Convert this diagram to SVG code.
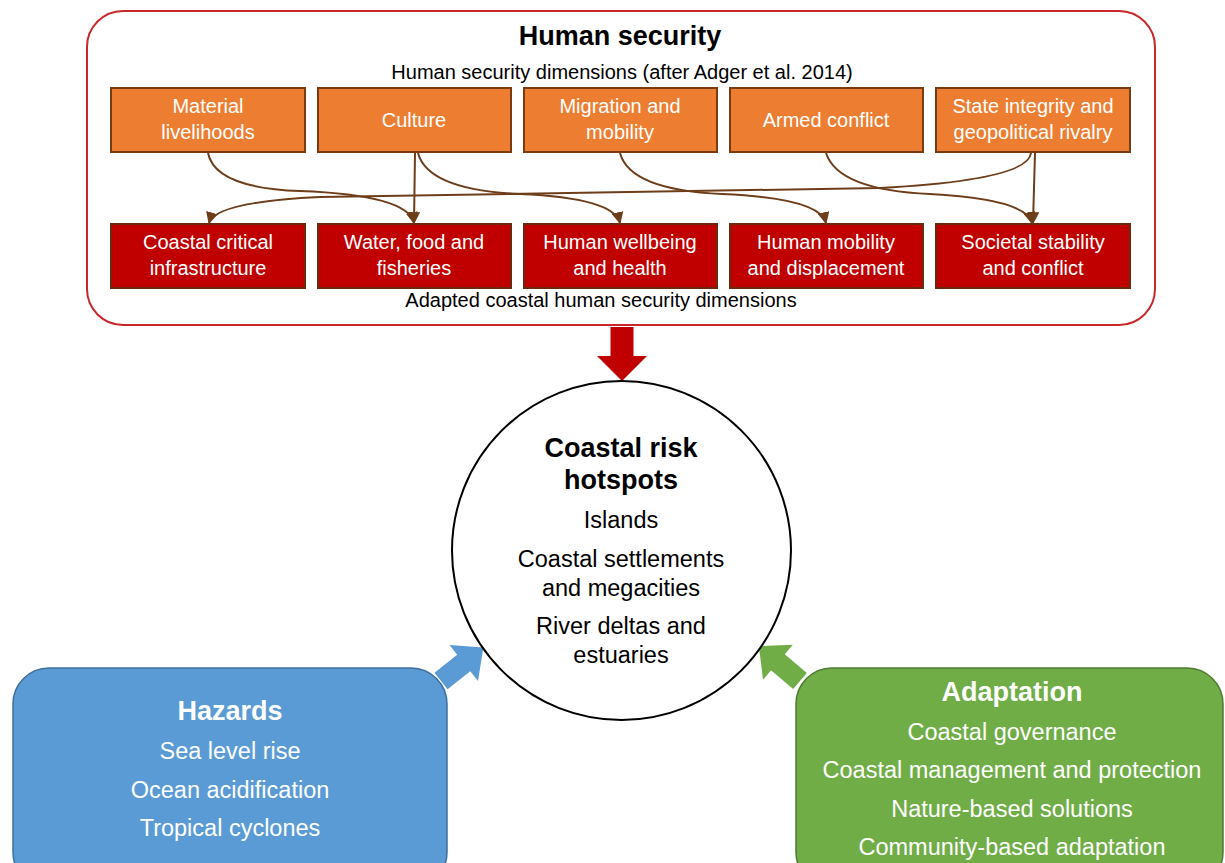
<svg xmlns="http://www.w3.org/2000/svg" width="1225" height="863" viewBox="0 0 1225 863">
<defs>
<style>
text{font-family:"Liberation Sans",Arial,sans-serif;text-anchor:middle}
.t{font-size:20px;fill:#fff}
.k{font-size:20px;fill:#000}
.dim{fill:#ed7d31;stroke:#7a3b12;stroke-width:2}
.adp{fill:#c00000;stroke:#6a2a10;stroke-width:2}
.con{fill:none;stroke:#6e3d19;stroke-width:2;marker-end:url(#ah)}
.ct{font-size:23.5px;fill:#000}
.wt{font-size:23.5px;fill:#fff}
.b{font-weight:bold;font-size:27px}
</style>
<marker id="ah" viewBox="0 0 10 10" refX="9" refY="5" markerWidth="6" markerHeight="6" orient="auto" markerUnits="strokeWidth">
<path d="M0,0 L10,5 L0,10 Z" fill="#6e3d19"/>
</marker>
<path id="blk" d="M0,-11.5 L29,-11.5 L29,-25 L54,0 L29,25 L29,11.5 L0,11.5 Z"/>
</defs>
<rect width="1225" height="863" fill="#fff"/>

<g id="human-security">
<rect x="87" y="11" width="1068" height="314" rx="36" ry="36" fill="#fff" stroke="#c8282a" stroke-width="2"/>
<text x="620" y="45" class="b" fill="#000">Human security</text>
<text x="622" y="79" class="k">Human security dimensions (after Adger et al. 2014)</text>
<text x="601" y="307" class="k">Adapted coastal human security dimensions</text>
</g>

<g id="dim-material"><rect class="dim" x="111" y="88" width="194" height="64"/><text class="t" x="208" y="113">Material</text><text class="t" x="208" y="139">livelihoods</text></g>
<g id="dim-culture"><rect class="dim" x="318" y="88" width="193" height="64"/><text class="t" x="414" y="127">Culture</text></g>
<g id="dim-migration"><rect class="dim" x="524" y="88" width="193" height="64"/><text class="t" x="620" y="113">Migration and</text><text class="t" x="620" y="139">mobility</text></g>
<g id="dim-armed"><rect class="dim" x="730" y="88" width="193" height="64"/><text class="t" x="826" y="127">Armed conflict</text></g>
<g id="dim-state"><rect class="dim" x="936" y="88" width="194" height="64"/><text class="t" x="1033" y="113">State integrity and</text><text class="t" x="1033" y="139">geopolitical rivalry</text></g>

<g id="adp-infra"><rect class="adp" x="111" y="224" width="194" height="64"/><text class="t" x="208" y="249">Coastal critical</text><text class="t" x="208" y="275">infrastructure</text></g>
<g id="adp-water"><rect class="adp" x="318" y="224" width="193" height="64"/><text class="t" x="414" y="249">Water, food and</text><text class="t" x="414" y="275">fisheries</text></g>
<g id="adp-wellbeing"><rect class="adp" x="524" y="224" width="193" height="64"/><text class="t" x="620" y="249">Human wellbeing</text><text class="t" x="620" y="275">and health</text></g>
<g id="adp-mobility"><rect class="adp" x="730" y="224" width="193" height="64"/><text class="t" x="826" y="249">Human mobility</text><text class="t" x="826" y="275">and displacement</text></g>
<g id="adp-societal"><rect class="adp" x="936" y="224" width="194" height="64"/><text class="t" x="1033" y="249">Societal stability</text><text class="t" x="1033" y="275">and conflict</text></g>

<g id="connectors">
<path class="con" d="M208,153 Q215,188 300,191 Q408,195 414,223"/>
<path class="con" d="M415,153 L414,223"/>
<path class="con" d="M418,153 Q428,190 520,194 Q614,198 620,223"/>
<path class="con" d="M620,153 Q630,190 722,194 Q820,198 826,223"/>
<path class="con" d="M826,153 Q838,190 930,194 Q1026,199 1032,223"/>
<path class="con" d="M1035,153 L1033,223"/>
<path class="con" d="M1031,153 Q1028,180 880,188 L320,197 Q215,202 209,223"/>
<use href="#blk" fill="#c00000" transform="translate(622,327) rotate(90)"/>
<use href="#blk" fill="#5b9bd5" transform="translate(441,681) rotate(-38.3) scale(1,0.92)"/>
<use href="#blk" fill="#70ad47" transform="translate(800,681) rotate(-139.6) scale(1,0.92)"/>
</g>

<g id="hotspots">
<circle cx="621.5" cy="550.5" r="169.5" fill="#fff" stroke="#000" stroke-width="2"/>
<text x="621" y="457" class="b" fill="#000">Coastal risk</text>
<text x="621" y="489" class="b" fill="#000">hotspots</text>
<text x="621" y="528" class="ct">Islands</text>
<text x="621" y="567" class="ct">Coastal settlements</text>
<text x="621" y="596" class="ct">and megacities</text>
<text x="621" y="634" class="ct">River deltas and</text>
<text x="621" y="663" class="ct">estuaries</text>
</g>

<g id="hazards">
<rect x="13" y="668" width="434" height="220" rx="36" ry="36" fill="#5b9bd5" stroke="#3f6f9c" stroke-width="1.5"/>
<text x="230" y="720" class="b" fill="#fff">Hazards</text>
<text x="230" y="759" class="wt">Sea level rise</text>
<text x="230" y="798" class="wt">Ocean acidification</text>
<text x="230" y="836" class="wt">Tropical cyclones</text>
</g>

<g id="adaptation">
<rect x="796" y="668" width="427" height="220" rx="36" ry="36" fill="#70ad47" stroke="#4f7b32" stroke-width="1.5"/>
<text x="1012" y="701" class="b" fill="#fff">Adaptation</text>
<text x="1012" y="740" class="wt">Coastal governance</text>
<text x="1012" y="778" class="wt">Coastal management and protection</text>
<text x="1012" y="817" class="wt">Nature-based solutions</text>
<text x="1012" y="855" class="wt">Community-based adaptation</text>
</g>
</svg>
